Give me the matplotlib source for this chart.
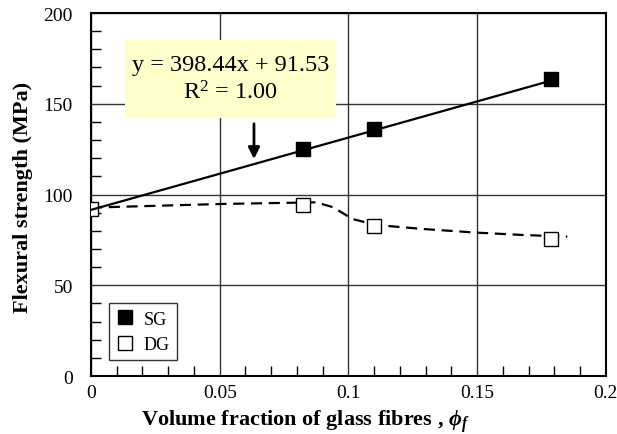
import matplotlib
matplotlib.use("Agg")
import matplotlib.pyplot as plt
import numpy as np
from matplotlib.patches import Rectangle
from matplotlib.ticker import MultipleLocator

# data
sg_x = [0.0825, 0.110, 0.1786]
sg_y = [125.0, 136.0, 163.5]
dg_x = [0.0, 0.0825, 0.110, 0.1786]
dg_y = [92.0, 94.2, 82.6, 75.5]
fit_slope = 398.44
fit_icpt = 91.53
# hand-drawn dashed trend through DG points
dg_trend_x = [0.0, 0.003, 0.051, 0.0874, 0.094, 0.1016, 0.1108, 0.129, 0.1497, 0.1678, 0.185]
dg_trend_y = [92.8, 92.9, 94.8, 95.7, 93.0, 86.5, 83.2, 81.0, 79.0, 77.7, 76.8]

plt.rcParams['font.family'] = ['Liberation Serif', 'DejaVu Serif']
plt.rcParams['mathtext.fontset'] = 'custom'
plt.rcParams['mathtext.rm'] = 'Liberation Serif'
plt.rcParams['mathtext.it'] = 'Liberation Serif:italic'
plt.rcParams['mathtext.bf'] = 'Liberation Serif:bold'
plt.rcParams['mathtext.bfit'] = 'Liberation Serif:bold:italic'

fig = plt.figure(figsize=(6.17, 4.35), dpi=100)
ax = fig.add_axes([0.1475, 0.1333, 0.8345, 0.8345])

# linear fit for SG
fx = np.array([0.0, max(sg_x)])
ax.plot(fx, fit_slope * fx + fit_icpt, color='black', lw=1.6, zorder=4)
ax.plot(dg_trend_x, dg_trend_y, color='black', lw=1.6, dashes=(5, 3), zorder=2)

ax.plot(sg_x, sg_y, 's', ms=10.5, mfc='black', mec='black', label='SG', zorder=5)
ax.plot(dg_x, dg_y, 's', ms=10.5, mfc='white', mec='black', mew=1.0, label='DG', zorder=3)

ax.set_xlim(0, 0.2)
ax.set_ylim(0, 200)
ax.xaxis.set_major_locator(MultipleLocator(0.05))
ax.yaxis.set_major_locator(MultipleLocator(50))
ax.xaxis.set_minor_locator(MultipleLocator(0.01))
ax.yaxis.set_minor_locator(MultipleLocator(10))
ax.set_xticks([0, 0.05, 0.1, 0.15, 0.2], ['0', '0.05', '0.1', '0.15', '0.2'])
ax.tick_params(which='major', length=0, labelsize=14)
ax.tick_params(axis='y', which='major', pad=13)
ax.tick_params(axis='x', which='major', pad=5.5)
ax.tick_params(which='minor', direction='in', length=7, width=1, color='black')
ax.grid(True, which='major', color='#333333', lw=1.0)
ax.set_axisbelow(True)
for s in ax.spines.values():
    s.set_linewidth(1.5)

ax.set_ylabel('Flexural strength (MPa)', fontsize=16, fontweight='bold')
ax.yaxis.set_label_coords(-0.113, 0.494)
ax.set_xlabel(r'Volume fraction of glass fibres , $\mathbfit{\phi}_{\mathbfit{f}}$',
              fontsize=16, fontweight='bold')
ax.xaxis.set_label_coords(0.4165, -0.088)

# equation box
ax.add_patch(Rectangle((0.066, 0.711), 0.41, 0.215, transform=ax.transAxes,
                       fc='#FFFFCC', ec='none', zorder=6))
ax.text(0.066 + 0.205, 0.711 + 0.1075, 'y = 398.44x + 91.53\nR$^2$ = 1.00', fontsize=17.5,
        ha='center', va='center', linespacing=1.3, zorder=7, transform=ax.transAxes)
ax.annotate('', xy=(0.0633, 118.0), xytext=(0.0633, 140.5),
            arrowprops=dict(arrowstyle='-|>', lw=2, color='black', mutation_scale=17),
            zorder=6)

leg = ax.legend(loc='lower left', bbox_to_anchor=(0.035, 0.044), borderaxespad=0,
                fontsize=13, frameon=True, fancybox=False, handlelength=1.0,
                handletextpad=0.5, borderpad=0.4, labelspacing=0.45, numpoints=1)
leg.get_frame().set_edgecolor('black')
leg.get_frame().set_linewidth(1.0)
for h in leg.legend_handles:
    h.set_markersize(10)

fig.savefig('out.png', dpi=100)
